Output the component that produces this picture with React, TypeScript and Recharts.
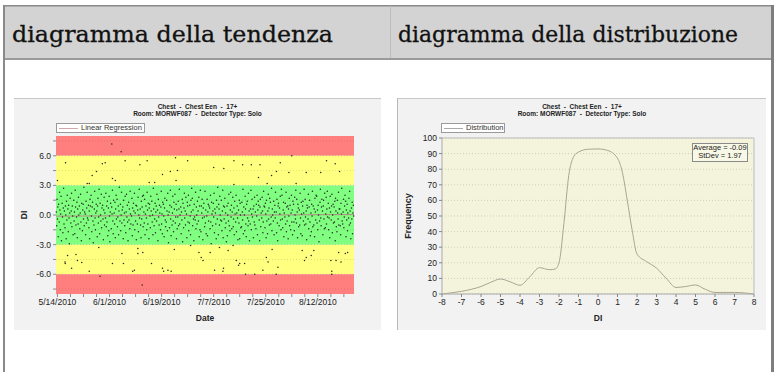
import React from "react";
import {
  ScatterChart,
  Scatter,
  LineChart,
  Line,
  XAxis,
  YAxis,
  CartesianGrid,
  ReferenceArea,
  ReferenceLine,
} from "recharts";

// trend chart: DI per exam, grouped by day since 5/14/2010 (green band cloud)
const cloudDI: number[][] = [
  [0.3, -1.1, 1.6, -0.4, 0.8, -2.2, 1.1],
  [-0.7, 2.3, 0.5, -1.5, 0.1, 1.9, -2.6],
  [1.2, -0.2, -1.8, 0.7, 2.7, -0.9, 0.4],
  [-1.3, 0.9, 0.0, -2.4, 1.4, -0.5, 2.0],
  [0.6, -1.7, 1.0, -0.3, -2.9, 0.2, 1.7],
  [-0.8, 0.4, 2.2, -1.2, 0.9, -0.1, -2.0],
  [1.5, -0.6, 0.3, -1.9, 2.5, 0.8, -1.0],
  [-0.2, 1.3, -2.3, 0.6, -0.9, 1.8, 0.0],
  [0.9, -1.4, 0.2, 2.1, -0.7, -2.6, 1.2],
  [-1.6, 0.5, 1.1, -0.4, 2.8, -1.1, 0.3],
  [0.1, -2.0, 1.4, -0.8, 0.7, 2.3, -0.3],
  [-0.5, 1.0, -1.3, 0.4, -2.4, 1.6, 0.9],
  [2.0, -0.1, -1.7, 0.8, 1.3, -0.6, -2.8],
  [-1.0, 0.6, 2.4, -0.3, -1.5, 0.2, 1.1],
  [0.4, -2.2, 0.9, 1.7, -0.8, -0.2, 2.6],
  [-1.9, 1.2, 0.0, -0.6, 2.1, -1.3, 0.7],
  [1.0, -0.4, -2.5, 0.5, 1.8, -1.0, 0.2],
  [-0.3, 2.2, -1.2, 0.9, -0.7, 1.4, -2.1],
  [0.7, -1.6, 1.9, -0.1, -2.7, 0.3, 1.2],
  [-1.4, 0.8, 0.1, 2.5, -0.6, -1.9, 1.5],
  [0.2, -0.9, 1.3, -2.3, 0.6, 2.0, -0.4],
  [1.6, -1.2, -0.2, 0.9, -2.0, 0.4, 2.8],
  [-0.6, 1.1, -1.6, 0.0, 2.3, -0.8, 0.5],
  [0.8, -2.4, 1.5, -0.5, 0.2, -1.1, 1.9],
  [-1.8, 0.3, 2.1, -0.2, 1.0, -0.7, -2.6],
  [1.3, -0.5, 0.6, -1.4, 2.4, 0.1, -0.9],
  [-0.1, 1.7, -2.1, 0.7, -1.0, 1.2, 0.4],
  [2.2, -1.5, 0.2, -0.6, 1.0, -2.5, 0.9],
  [-0.9, 0.5, 1.8, -1.7, 0.0, 2.6, -0.3],
  [0.6, -1.0, -2.3, 1.4, -0.4, 0.8, 1.9],
  [-1.2, 2.0, 0.3, -0.8, 1.6, -2.0, 0.1],
  [0.9, -0.3, -1.5, 2.3, 0.5, -0.9, 1.2],
  [-2.4, 0.7, 1.1, -0.1, -1.3, 1.9, 0.4],
  [1.4, -0.7, 0.0, -2.0, 2.7, 0.6, -1.1],
  [-0.4, 1.2, -1.8, 0.3, 0.9, -0.6, 2.1],
  [0.5, -2.6, 1.6, -0.2, -1.0, 1.0, 0.2],
  [-1.5, 0.8, 2.4, -0.9, 0.1, -1.9, 1.3],
  [1.1, -0.1, -2.2, 0.7, 1.7, -0.5, -1.2],
  [-0.7, 1.5, 0.4, -1.6, 2.2, 0.0, -2.8],
  [0.3, -1.3, 1.0, 2.5, -0.4, -2.1, 0.8],
  [-1.0, 0.2, 1.9, -0.6, -1.7, 1.3, 0.6],
  [2.1, -0.8, -0.2, 1.1, -2.4, 0.5, -1.4],
  [-0.2, 1.4, -1.1, 0.6, 2.6, -0.9, 0.0],
  [0.8, -1.9, 0.3, -0.5, 1.6, -2.7, 1.2],
  [-1.3, 0.7, 2.2, -0.3, 0.4, -1.0, 1.8],
  [0.1, -2.3, 1.3, 0.9, -0.7, 2.0, -1.6],
  [-0.8, 1.0, -0.1, -2.0, 1.5, 0.3, 2.7],
  [1.7, -1.1, 0.5, -0.4, -2.6, 1.1, -0.2],
  [-0.5, 2.3, -1.4, 0.8, 0.0, -0.9, 1.4],
  [0.4, -0.6, 1.8, -2.2, 0.9, -1.5, 2.5],
  [-1.7, 0.9, 0.2, 1.6, -0.3, -2.5, 0.7],
  [1.2, -0.2, -1.2, 2.4, -0.8, 0.5, -1.9],
  [-0.1, 1.6, -2.1, 0.3, 1.1, -0.6, 0.9],
  [0.7, -1.4, 2.0, -0.7, -2.9, 1.3, 0.1],
  [-1.1, 0.4, 1.2, -0.2, 2.2, -1.8, 0.6],
  [0.2, -0.9, -2.4, 1.5, 0.8, -0.4, 2.8],
  [-2.0, 1.1, 0.6, -1.0, 1.9, 0.0, -0.5],
  [1.5, -0.6, -1.6, 0.4, 2.5, -2.3, 0.9],
  [-0.4, 0.8, 1.7, -1.3, 0.2, -0.8, -2.7],
  [0.9, -2.1, 0.0, 1.2, -0.6, 2.1, -1.1],
  [-1.6, 0.5, 2.3, -0.2, 1.0, -1.4, 0.3],
  [1.8, -1.2, -0.4, 0.7, -2.0, 1.4, 0.1],
  [-0.7, 2.0, -1.7, 0.2, 0.9, -0.3, -2.5],
  [0.5, -0.8, 1.5, -2.4, 1.2, 0.0, -1.3],
  [-1.2, 1.3, 0.3, -0.5, 2.6, -1.9, 0.8],
  [0.0, -1.6, 1.9, 0.6, -0.9, -2.2, 1.1],
  [1.4, -0.3, -1.1, 2.2, -0.6, 0.4, -2.6],
  [-0.9, 0.6, 2.5, -1.5, 0.1, 1.6, -0.2],
  [0.6, -2.3, 0.9, -0.7, 1.8, -1.0, 0.3],
  [-1.4, 1.1, -0.1, 2.0, -2.0, 0.5, 1.4],
  [1.0, -0.5, -2.6, 0.8, 1.6, -1.2, 0.2],
  [-0.3, 1.8, 0.4, -1.8, -0.7, 2.4, 0.9],
  [0.8, -1.3, 1.2, 0.1, -2.3, 1.5, -0.6],
  [-1.9, 0.4, 2.1, -0.4, 0.7, -1.0, 1.7],
  [1.3, -0.9, -0.2, 2.7, -1.6, 0.6, 0.0],
  [-0.6, 1.4, -2.0, 0.3, 1.0, -0.3, 2.3],
  [0.3, -1.8, 1.6, -0.8, -2.6, 0.9, 1.2],
  [-1.1, 0.7, 0.1, 1.9, -0.5, -1.5, 2.6],
  [2.0, -0.4, -1.3, 0.5, 1.3, -2.2, 0.2],
  [-0.2, 1.2, -0.9, 2.3, -1.7, 0.8, -0.6],
  [0.9, -2.4, 0.6, -0.1, 1.7, -1.1, 1.0],
  [-1.5, 0.2, 2.0, -0.7, 0.5, -2.0, 1.4],
  [1.1, -0.7, -1.6, 1.8, 0.0, -0.4, 2.5],
  [-0.8, 1.6, 0.3, -2.3, 1.1, 0.7, -1.2],
  [0.5, -1.0, 2.2, -0.3, -1.9, 1.3, 0.1],
  [-2.1, 0.9, 1.4, -0.6, 0.2, 2.6, -1.0],
  [1.6, -0.2, -0.9, 0.4, -2.5, 1.0, 0.7],
  [-0.4, 2.1, -1.4, 0.8, 1.5, -0.7, -2.1],
  [0.2, -1.7, 1.1, -0.1, 2.4, -1.2, 0.9],
  [-1.0, 0.6, -2.2, 1.7, 0.3, -0.5, 2.0],
  [1.9, -0.8, 0.5, -1.5, 1.0, 0.0, -2.7],
  [-0.6, 1.3, 2.6, -0.3, -1.1, 0.8, 1.6],
  [0.4, -2.0, 0.9, 1.5, -0.4, -1.4, 2.2],
  [-1.3, 0.1, 1.8, -0.9, 0.6, 2.4, -0.2],
  [1.2, -1.5, -0.3, 0.7, -2.3, 1.9, 0.3],
  [-0.5, 0.9, 2.1, -1.8, 0.0, 1.1, -0.8],
  [0.8, -0.7, 1.4, -2.6, 1.7, 0.4, -1.2],
  [-1.7, 1.5, 0.2, -0.4, 2.3, -1.0, 0.6],
  [0.6, -1.1, -2.0, 1.2, 0.1, 2.7, -0.6],
  [-0.9, 0.3, 1.6, -1.3, -0.2, 0.9, 2.0],
  [1.4, -2.2, 0.5, -0.5, 1.1, -1.6, 0.2],
  [-0.3, 1.7, -1.0, 2.4, 0.4, -0.8, -2.4],
  [0.7, -0.4, 1.3, -1.9, 0.2, 1.0, -0.1],
];

// points outside the green band (day, DI)
const outlierDay = [
  0, 2.8, 10.3, 11, 12, 13.5, 15.5, 16.5, 18.8, 22, 19, 20, 23.4, 28.5, 31, 31.7,
  33.6, 36.3, 39, 40.8, 41.5, 45, 41, 54, 57.5, 61, 61, 64, 67, 69.5, 70, 74, 75.7,
  77, 80, 81, 86, 91, 93, 96, 97.5, 72.5, 82.5,
  2.6, 2.7, 3.5, 4.9, 6.4, 6.9, 8.4, 11, 14.3, 14.7, 19, 22.3, 22.8, 26, 26.6,
  27.8, 27.8, 29.5, 29.3, 32.5, 36.3, 36.7, 38.2, 39.3, 40.4, 46, 48.9, 49.7,
  50.3, 52.8, 54.3, 56, 57.4, 57.2, 59, 60.7, 61.8, 62.6, 63, 64.7, 65, 68.2, 71,
  72.2, 72.8, 74.2, 75.6, 76.2, 84.6, 85.4, 86, 87.7, 88.6, 94.5, 94.8, 94.8,
  96.3, 98, 99.5, 100.3, 97.2,
];
const outlierDI = [
  3.5, 5.3, 3.2, 3.2, 4.0, 4.4, 5.2, 5.3, 7.2, 6.4, 3.7, 3.5, 5.5, 5.1, 5.5, 3.3,
  3.3, 4.1, 4.4, 5.8, 4.5, 5.5, 3.5, 4.8, 4.7, 5.5, 3.1, 5.1, 5.1, 3.8, 5.1, 4.0, 4.4,
  5.3, 4.3, 6.0, 4.3, 4.3, 5.5, 5.2, 4.4, 3.2, 3.2,
  -4.75, -4.9, -4.1, -5.4, -4.0, -4.6, -4.8, -5.7, -3.3, -6.2, -4.9, -3.9, -4.9, -5.7, -5.6,
  -3.4, -3.9, -3.8, -7.1, -4.9, -5.4, -5.7, -5.6, -5.7, -3.5, -3.1, -3.8, -4.3,
  -4.6, -3.8, -5.6, -3.3, -5.4, -5.7, -3.6, -3.1, -4.6, -5.1, -4.9, -4.9, -6.0, -6.0, -5.6,
  -4.3, -4.75, -3.5, -6.0, -5.3, -3.6, -4.6, -4.3, -4.1, -3.6, -4.6, -5.7, -6.0,
  -4.6, -4.75, -3.9, -3.8, -3.8,
];

const dayTicks = [0, 4.5, 9, 13.5, 18, 22.5, 27, 31.5, 36, 40.5, 45, 49.5, 54, 58.5, 63, 67.5, 72, 76.5, 81, 85.5, 90, 94.5, 99];
const labelDays = [0, 18, 36, 54, 72, 90];
const diTicks = [-7.5, -6, -4.5, -3, -1.5, 0, 1.5, 3, 4.5, 6, 7.5];

// distribution chart
const distDI = [-8, -7.5, -7, -6.5, -6, -5.5, -5, -4.5, -4, -3.5, -3, -2.5, -2.2, -2, -1.75, -1.5, -1.25, -1, -0.5, 0, 0.5, 1, 1.25, 1.5, 1.75, 2, 2.5, 3, 3.5, 4, 4.5, 5, 5.5, 6, 7, 8];
const distFreq = [0, 0.8, 1.7, 3, 4.8, 7.5, 9.6, 7.8, 5.6, 11, 16.9, 15.6, 16, 20, 45, 76, 88, 91, 92.8, 93, 92, 87, 78, 60, 41, 25.6, 20.7, 16.6, 10, 4.2, 4.8, 5.8, 3, 1, 1, 0];
const freqTicks = [0, 10, 20, 30, 40, 50, 60, 70, 80, 90, 100];
const diAxisTicks = [-8, -7, -6, -5, -4, -3, -2, -1, 0, 1, 2, 3, 4, 5, 6, 7, 8];

const scatterData = [
  ...cloudDI.flatMap((row, day) => row.map((di, j) => ({ x: day + (j - 3) * 0.13, y: di }))),
  ...outlierDay.map((d, i) => ({ x: d, y: outlierDI[i] })),
];
const distData = distDI.map((di, i) => ({ di, freq: distFreq[i] }));

const sans = "'Liberation Sans', Arial, sans-serif";
const tickStyle = { fontSize: 8.5, fill: "#222", fontFamily: sans };
const axisTitle = { fontSize: 8.5, fontWeight: "bold", fill: "#222", fontFamily: sans };

function fmtDay(day: number) {
  if (!labelDays.includes(day)) return "";
  const d = new Date(2010, 4, 14 + day);
  return `${d.getMonth() + 1}/${d.getDate()}/${d.getFullYear()}`;
}

function Title() {
  return (
    <div style={{ position: "absolute", left: 0, right: 0, top: 4, textAlign: "center", fontFamily: sans, fontSize: 6.5, fontWeight: "bold", color: "#222", lineHeight: "7px" }}>
      <div>Chest &nbsp;-&nbsp; Chest Een &nbsp;-&nbsp; 17+</div>
      <div>Room: MORWF087 &nbsp;-&nbsp; Detector Type: Solo</div>
    </div>
  );
}

function LegendBox({ left, width, text, color }: { left: number; width: number; text: string; color: string }) {
  return (
    <div style={{ position: "absolute", left, top: 24, width, height: 8, border: "1px solid #999", background: "#fff", fontFamily: sans, fontSize: 7.5, lineHeight: "8px", color: "#333" }}>
      <div style={{ position: "absolute", left: 2, top: 4, width: 19, height: 1, background: color }} />
      <div style={{ position: "absolute", left: 24, top: 0 }}>{text}</div>
    </div>
  );
}

function TrendChart() {
  const dot = (p: any) => <circle cx={p.cx} cy={p.cy} r={0.75} fill="#222" />;
  return (
    <ScatterChart width={367} height={230} margin={{ top: 37, right: 27, bottom: 0, left: 0 }}>
      <ReferenceArea y1={6} y2={8} fill="#ff7f7f" fillOpacity={1} stroke="none" />
      <ReferenceArea y1={3} y2={6} fill="#ffff80" fillOpacity={1} stroke="none" />
      <ReferenceArea y1={-3} y2={3} fill="#80ff80" fillOpacity={1} stroke="none" />
      <ReferenceArea y1={-6} y2={-3} fill="#ffff80" fillOpacity={1} stroke="none" />
      <ReferenceArea y1={-8} y2={-6} fill="#ff7f7f" fillOpacity={1} stroke="none" />
      {diTicks.map((t) => (
        <ReferenceLine key={t} y={t} stroke="rgba(0,0,0,0.13)" strokeDasharray="1 2" />
      ))}
      <XAxis
        type="number"
        dataKey="x"
        domain={[-0.5, 102.5]}
        ticks={dayTicks}
        interval={0}
        tickFormatter={fmtDay}
        height={35}
        tickSize={3}
        axisLine={false}
        tickLine={{ stroke: "#888" }}
        tick={tickStyle}
        label={{ value: "Date", position: "insideBottom", offset: 8, style: axisTitle }}
      />
      <XAxis xAxisId="top" orientation="top" mirror type="number" domain={[-0.5, 102.5]} ticks={dayTicks} tick={false} tickSize={3} axisLine={false} tickLine={{ stroke: "#888" }} />
      <YAxis
        type="number"
        dataKey="y"
        domain={[-8, 8]}
        ticks={diTicks}
        interval={0}
        tickFormatter={(v: number) => (v % 3 === 0 ? v.toFixed(1) : "")}
        width={42}
        tickSize={3}
        axisLine={false}
        tickLine={{ stroke: "#888" }}
        tick={tickStyle}
        label={{ value: "DI", angle: -90, position: "insideLeft", offset: 10, style: { ...axisTitle, textAnchor: "middle" } }}
      />
      <YAxis yAxisId="right" orientation="right" mirror type="number" domain={[-8, 8]} ticks={diTicks} tick={false} tickSize={3} axisLine={false} tickLine={{ stroke: "#888" }} />
      <ReferenceLine segment={[{ x: -0.5, y: -0.12 }, { x: 102.5, y: 0.05 }]} stroke="#b48c84" strokeWidth={1} />
      <Scatter data={scatterData} shape={dot} isAnimationActive={false} />
    </ScatterChart>
  );
}

function DistChart() {
  return (
    <LineChart width={368} height={230} data={distData} margin={{ top: 39, right: 12, bottom: 0, left: 0 }}>
      <CartesianGrid vertical={false} fill="#f4f4dc" stroke="#cfcfc0" strokeDasharray="1 2" />
      <XAxis
        type="number"
        dataKey="di"
        domain={[-8, 8]}
        ticks={diAxisTicks}
        interval={0}
        height={35}
        tickSize={3}
        axisLine={{ stroke: "#aaa" }}
        tickLine={{ stroke: "#888" }}
        tick={tickStyle}
        label={{ value: "DI", position: "insideBottom", offset: 8, style: axisTitle }}
      />
      <XAxis xAxisId="top" orientation="top" mirror type="number" domain={[-8, 8]} ticks={diAxisTicks} tick={false} tickSize={3} axisLine={{ stroke: "#bbb" }} tickLine={{ stroke: "#999" }} />
      <YAxis
        type="number"
        domain={[0, 100]}
        ticks={freqTicks}
        interval={0}
        width={44}
        tickSize={3}
        axisLine={{ stroke: "#aaa" }}
        tickLine={{ stroke: "#888" }}
        tick={tickStyle}
        label={{ value: "Frequency", angle: -90, position: "insideLeft", offset: 10, style: { ...axisTitle, fontSize: 9, textAnchor: "middle" } }}
      />
      <YAxis yAxisId="right" orientation="right" mirror type="number" domain={[0, 100]} ticks={freqTicks} tick={false} tickSize={3} axisLine={{ stroke: "#bbb" }} tickLine={{ stroke: "#999" }} />
      <Line type="monotone" dataKey="freq" stroke="#a9a592" strokeWidth={1} dot={false} isAnimationActive={false} />
    </LineChart>
  );
}

export default function App() {
  const headerFont = { fontFamily: "'DejaVu Serif', serif", fontSize: 23, fill: "#111", stroke: "#111", strokeWidth: 0.3 };
  return (
    <div style={{ position: "absolute", left: 0, top: 0, width: 775, height: 372, background: "#fff", overflow: "hidden" }}>
      <svg width={775} height={372} style={{ position: "absolute", left: 0, top: 0 }}>
        <rect x={5} y={6} width={766} height={52} fill="#d3d3d3" />
        <rect x={3} y={5} width={770} height={1.5} fill="#8a8a8a" />
        <rect x={5} y={58} width={766} height={2} fill="#9a9a9a" />
        <rect x={3} y={5} width={2} height={367} fill="#8a8a8a" />
        <rect x={771} y={5} width={3} height={367} fill="#7e7e7e" />
        <rect x={390} y={6} width={1} height={52} fill="#bdbdbd" />
        <text x={12} y={42} {...headerFont} textLength={321} lengthAdjust="spacingAndGlyphs">
          diagramma della tendenza
        </text>
        <text x={398} y={42} {...headerFont} textLength={340} lengthAdjust="spacingAndGlyphs">
          diagramma della distribuzione
        </text>
      </svg>

      <div style={{ position: "absolute", left: 14, top: 98, width: 367, height: 231, background: "#f2f2f2", borderTop: "1px solid #c8c8c8" }}>
        <Title />
        <LegendBox left={42} width={87} text="Linear Regression" color="#d4a8a8" />
        <div style={{ position: "absolute", left: 0, top: 0 }}>
          <TrendChart />
        </div>
      </div>

      <div style={{ position: "absolute", left: 397, top: 98, width: 368, height: 231, background: "#f2f2f2", borderTop: "1px solid #c8c8c8", borderLeft: "1px solid #b8b8b8" }}>
        <Title />
        <LegendBox left={43} width={62} text="Distribution" color="#aaa" />
        <div style={{ position: "absolute", left: 0, top: 0 }}>
          <DistChart />
        </div>
        <div style={{ position: "absolute", left: 294, top: 44, width: 54, height: 17, border: "1px solid #8a8a8a", background: "#f8f8e6", fontFamily: sans, fontSize: 7.5, lineHeight: "8px", color: "#222", textAlign: "center" }}>
          <div>Average = -0.09</div>
          <div>StDev = 1.97</div>
        </div>
      </div>
    </div>
  );
}
